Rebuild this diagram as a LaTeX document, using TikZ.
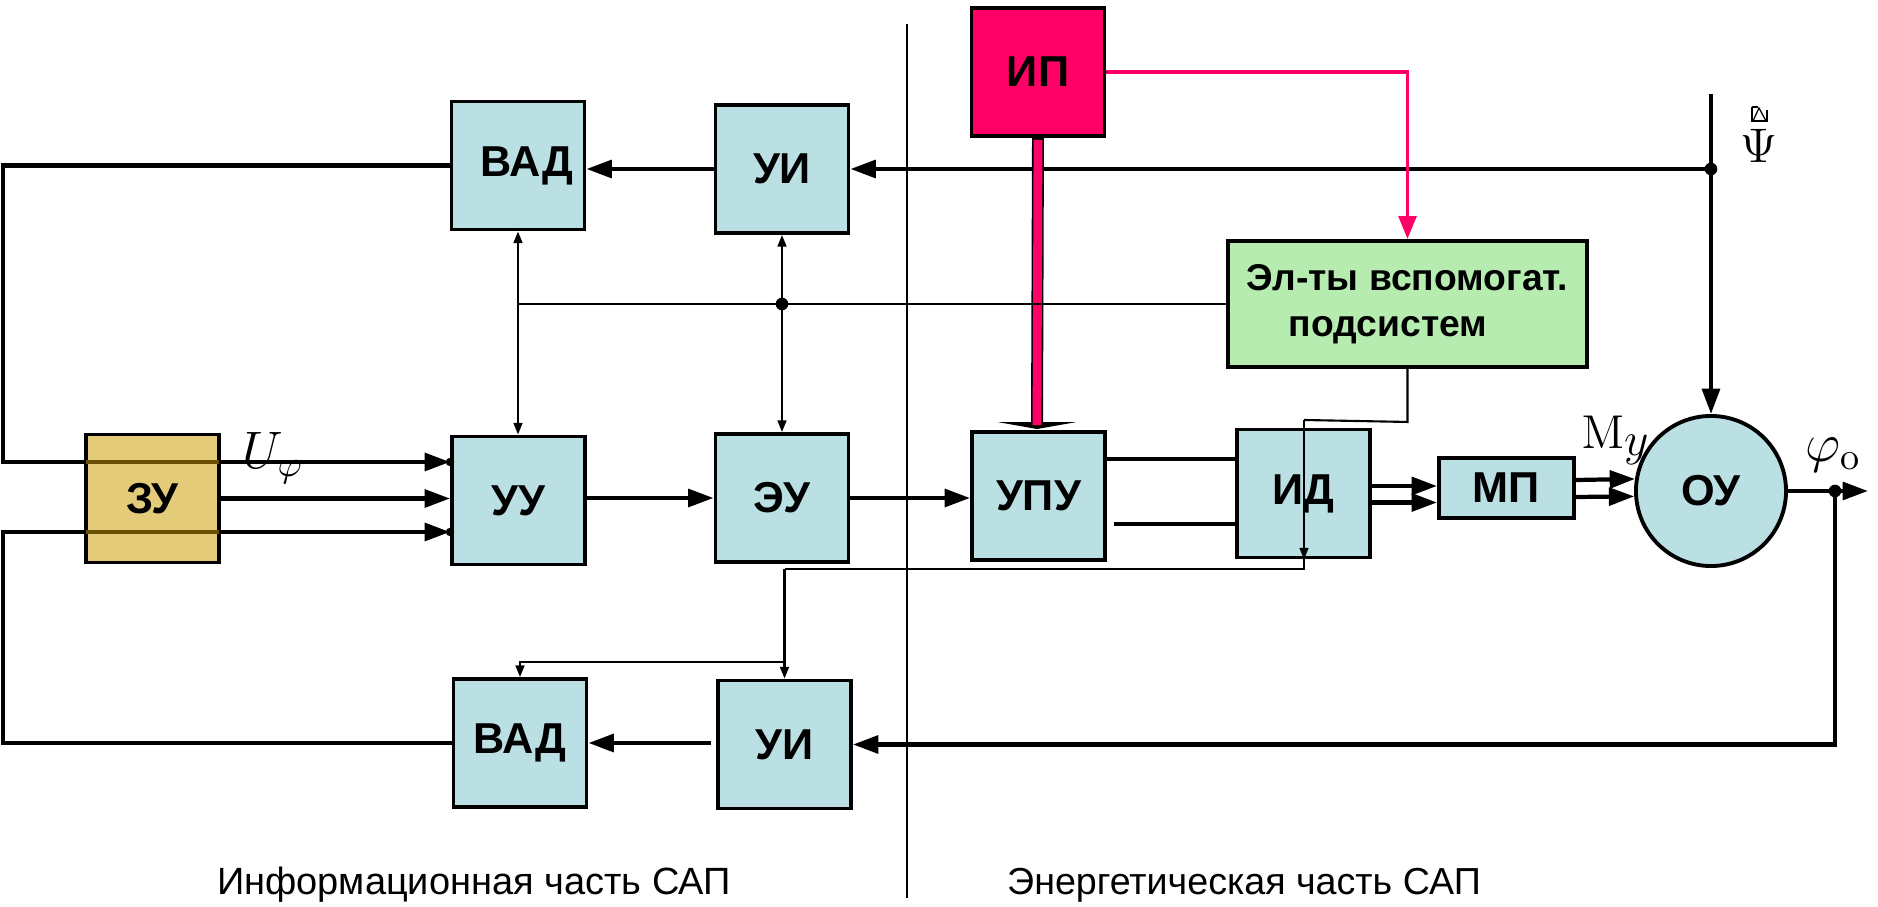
\RequirePackage{fix-cm}
\documentclass[tikz,border=0pt]{standalone}
\usepackage[no-math]{fontspec}
\setmainfont{Liberation Sans}
\usetikzlibrary{arrows.meta,calc}

\definecolor{boxblue}{RGB}{186,224,227}
\definecolor{ippink}{RGB}{255,0,102}
\definecolor{auxgreen}{RGB}{183,236,176}
\definecolor{zukhaki}{RGB}{228,203,122}
\definecolor{zuline}{RGB}{105,80,5}

\begin{document}
\begin{tikzpicture}[x=0.01cm,y=-0.01cm,
  blk/.style={draw=black, line width=1.1pt, fill=boxblue,
    minimum width=1.33cm, minimum height=1.28cm, inner sep=0pt,
    font=\fontsize{12.3}{14}\selectfont\bfseries},
  sig/.style={line width=1.2pt, -{Triangle[length=7.2pt,width=5pt]}},
  wire/.style={line width=1.2pt},
  thinw/.style={line width=0.6pt},
  thinarr/.style={line width=0.6pt, -{Triangle[length=3.3pt,width=2.5pt]}},
  pinkarr/.style={draw=ippink, line width=1pt, -{Triangle[length=6.5pt,width=5pt]}},
  lbl/.style={inner sep=0pt}
]
\useasboundingbox (0,0) rectangle (1878,907);

% border between information and power parts
\draw[line width=0.7pt] (907,24) -- (907,898);

% blocks
\node[blk] (vad1) at (518,165.5) {\hspace*{0.18cm}ВАД};
\node[blk] (ui1)  at (782,169) {УИ};
\node[blk, fill=ippink] (ip) at (1038,72) {ИП};
\node[blk, fill=auxgreen, minimum width=3.59cm, minimum height=1.26cm,
      align=left, font=\fontsize{10.6}{13.1}\selectfont\bfseries] (aux) at (1407.5,304)
      {Эл-ты вспомогат.\\\hspace*{0.42cm}подсистем};
\node[blk, fill=zukhaki] (zu) at (152.5,498.5) {ЗУ};
\node[blk] (uu)  at (518.5,500.5) {УУ};
\node[blk] (eu)  at (782,498) {ЭУ};
\node[blk] (upu) at (1038.5,496) {УПУ};
\node[blk] (id)  at (1303.5,493.5) {ИД};
\node[blk, minimum width=1.35cm, minimum height=0.6cm] (mp) at (1506.5,488) {МП};
\node[blk, circle, minimum size=1.5cm] (ou) at (1711,491) {ОУ};
\node[blk] (vad2) at (520,743) {ВАД};
\node[blk] (ui2)  at (784.5,744.5) {УИ};

% disturbance input and its branch to the upper measuring channel
\coordinate (psiTop) at (1711,94);
\coordinate (psiJ) at (1711,169);
\draw[sig] (psiTop) -- (ou.north);
\draw[sig] (psiJ) -- (psiJ -| ui1.east);
\fill (psiJ) circle[radius=1.8pt];
\draw[sig] (ui1.west) -- (ui1.west -| vad1.east);

% upper loop to the control unit
\coordinate (lt) at (3,462);
\draw[sig] (vad1.west) -| (lt) -- (lt -| uu.west);
\fill (lt -| uu.west) circle[radius=1.2pt];

% setpoint
\draw[sig] (zu.east) -- (zu.east -| uu.west);

% lower loop to the control unit
\coordinate (lb) at (3,532);
\draw[sig] (vad2.west) -| (lb) -- (lb -| uu.west);
\fill (lb -| uu.west) circle[radius=1.2pt];

% lines seen through the setpoint block
\draw[zuline, line width=1.2pt] ($(zu.west |- lt)+(2,0)$) -- ($(zu.east |- lt)+(-2,0)$);
\draw[zuline, line width=1.2pt] ($(zu.west |- lb)+(2,0)$) -- ($(zu.east |- lb)+(-2,0)$);

% main chain
\draw[sig] (uu.east |- eu.west) -- (eu.west);
\draw[sig] (eu.east) -- (eu.east -| upu.west);
\coordinate (u1) at ($(upu.north east)!0.22!(upu.south east)$);
\coordinate (u2) at ($(upu.north east)!0.71!(upu.south east)+(7,0)$);
\draw[wire] (u1) -- (u1 -| id.west);
\draw[wire] (u2) -- (u2 -| id.west);
\coordinate (d1) at ($(id.east)+(0,-7.5)$);
\coordinate (d2) at ($(id.east)+(0,9)$);
\draw[sig] (d1) -- (d1 -| mp.west);
\draw[sig] (d2) -- (d2 -| mp.west);
\coordinate (m1) at ($(mp.east)+(0,-8)$);
\coordinate (m2) at ($(mp.east)+(0,9)$);
\draw[sig] (m1) -- (ou.171.7);
\draw[sig] (m2) -- (ou.184.5);

% output and feedback
\coordinate (out) at (1868,491);
\coordinate (fbJ) at (1835,491);
\draw[sig] (ou.east) -- (out);
\fill (fbJ) circle[radius=1.8pt];
\draw[sig] (fbJ) |- (ui2.east);
\coordinate (ui2s) at ($(ui2.west)+(-5,-1.5)$);
\draw[sig] (ui2s) -- (ui2s -| vad2.east);

% power supply
\draw[pinkarr] (ip.east) -| (aux.north);
\coordinate (barEnd) at ($(upu.north)+(-1.5,-4)$);
\fill ($(upu.north)+(-41,-8)$) -- ($(upu.north)+(38,-8)$) -- ($(upu.north)+(-1.5,-1)$) -- cycle;
\draw[line width=3.4pt] (ip.south) -- (barEnd);
\draw[ippink, line width=2.5pt] ($(ip.south)+(0,2)$) -- ($(barEnd)+(0,-1)$);

% auxiliary subsystem links
\coordinate (j1) at (vad1.south |- aux.west);
\coordinate (j2) at (ui1.south |- aux.west);
\draw[thinw] (aux.west) -- (j1);
\fill (j2) circle[radius=1.8pt];
\draw[thinarr] (j1) -- (vad1.south);
\draw[thinarr] (j1) -- (j1 |- uu.north);
\draw[thinarr] (j2) -- (ui1.south);
\draw[thinarr] (j2) -- (j2 |- eu.north);

\coordinate (a1) at ($(aux.south)+(0,53)$);
\coordinate (a2) at (1304,420);
\coordinate (a3) at (1304,569);
\coordinate (a4) at (ui2.north |- a3);
\coordinate (a5) at (ui2.north |- 0,662);
\draw[thinw] (aux.south) -- (a1) -- (a2);
\draw[thinarr] (a2) -- (a2 |- id.south);
\draw[thinw] (a2 |- id.south) -- (a3) -- (a4);
\draw[thinarr] (a4) -- (ui2.north);
\draw[thinarr] (a5) -| (vad2.north);

% signal labels
\node[lbl, font=\fontsize{15}{17}\selectfont] (lU) at (273,458) {$U_{\varphi}$};
\node[lbl, font=\fontsize{13.5}{15}\selectfont] (lM) at (1615,440) {$\mathrm{M}\lower2pt\hbox{$y$}$};
\node[lbl, font=\fontsize{15.5}{17}\selectfont] (lphi) at (1833,455) {$\varphi_{\mathrm{o}}$};
\node[lbl, font=\fontsize{13.8}{15}\selectfont] (lpsi) at (1759,146) {$\Psi$};
\draw[line width=0.35pt] (1752,107) -- (1752,121) -- (1767,121) -- (1767,110);
\draw[line width=0.35pt] (1752,107) -- (1758,107);
\draw[line width=0.35pt] (1753,121) -- (1759,108) -- (1766,121);

% part captions
\node[lbl, anchor=base, font=\fontsize{10.8}{13}\selectfont] (capI) at (474,895) {Информационная часть САП};
\node[lbl, anchor=base, font=\fontsize{10.7}{13}\selectfont] (capE) at (1244,895) {Энергетическая часть САП};
\end{tikzpicture}
\end{document}
